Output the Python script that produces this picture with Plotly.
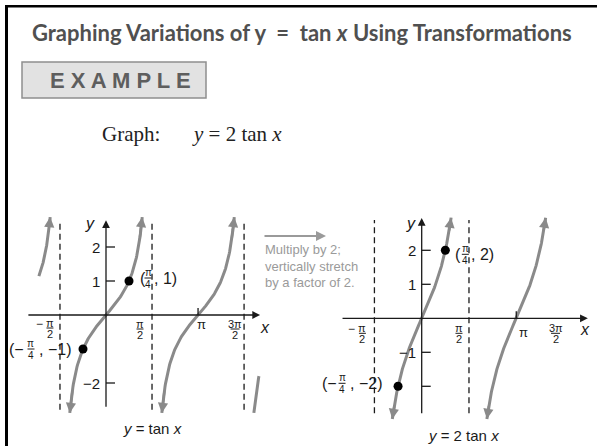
import numpy as np
import plotly.graph_objects as go

W, H = 597, 446
PI = np.pi

# ---------------- data ----------------
left_amplitude = 1                      # y = tan x
right_amplitude = 2                     # y = 2 tan x
left_branch_centers = [-PI, 0.0, PI, 2 * PI]
left_branch_x_start = [-2.29, None, None, None]   # None -> branch runs to the y-limit
left_branch_x_end = [None, None, None, 5.22]
right_branch_centers = [0.0, PI]
right_branch_x_start = [None, None]
right_branch_x_end = [None, None]
left_y_limit = 2.88
right_y_limit = 2.96
left_asymptotes = [-PI / 2, PI / 2, 3 * PI / 2]
right_asymptotes = [-PI / 2, PI / 2]
left_point_x = [-PI / 4, PI / 4]
left_point_y = [-1, 1]
right_point_x = [-PI / 4, PI / 4]
right_point_y = [-2, 2]
left_yticks = [-2, 1, 2]
left_ytick_labels = ["−2", "1", "2"]
right_yticks = [-2, -1, 1, 2]
right_ytick_labels = ["", "−1", "1", "2"]
xtick_values = [-PI / 2, PI / 2, PI, 3 * PI / 2]
xtick_sign = ["−", "", "", ""]
xtick_num = ["π", "π", "π", "3π"]
xtick_den = ["2", "2", "", "2"]
x_tick_mark = [PI]
caption_left = "<i>y</i> = tan <i>x</i>"
caption_right = "<i>y</i> = 2 tan <i>x</i>"
note_lines = ["Multiply by 2;", "vertically stretch", "by a factor of 2."]

# ---------------- style ----------------
SANS = "Liberation Sans, Arial, sans-serif"
TITLE_FONT = "Lato, Roboto, Liberation Sans, sans-serif"
SERIF = "Liberation Serif, Times New Roman, serif"
CURVE = "#8a8a8a"
INK = "#1a1a1a"

panels = {
    "L": dict(xa="x", ya="y", ox=106, oy=315, sx=29.3, sy=34, px=(15, 272), py=(205, 425),
              xaxis_ext=(-2.70, 5.26), yaxis_ext=(-2.74, 2.79), asym_ext=(-2.79, 2.79),
              frac_dx=[-10, -12, 3, -9], frac_dy=[13, 14, 9, 14], sign_dx=-20,
              xlab=(5, 12), ylab=(-16, 3)),
    "R": dict(xa="x2", ya="y2", ox=421.7, oy=318.3, sx=30.1, sy=34, px=(300, 597), py=(205, 425),
              xaxis_ext=(-2.68, 5.52), yaxis_ext=(-2.84, 2.95), asym_ext=(-2.79, 2.89),
              frac_dx=[-12, -10, 7, -8], frac_dy=[15, 15, 14, 15], sign_dx=-21,
              xlab=(-3, 11), ylab=(-11, 5)),
}

fig = go.Figure()
annotations = []
shapes = []


def txt(xa, ya, x, y, s, dx=0, dy=0, size=15, family=SANS, color=INK, xanchor="center"):
    annotations.append(dict(xref=xa, yref=ya, x=x, y=y, text=s, showarrow=False,
                            xshift=dx, yshift=-dy, xanchor=xanchor, yanchor="middle",
                            font=dict(size=size, family=family, color=color)))


def frac(xa, ya, x, y, num, den, dx, dy, size=11, color=INK, w=8, gap=6):
    txt(xa, ya, x, y, num, dx, dy - gap, size)
    txt(xa, ya, x, y, den, dx, dy + gap, size)
    shapes.append(dict(type="line", xref=xa, yref=ya, xsizemode="pixel", ysizemode="pixel",
                       xanchor=x, yanchor=y, x0=dx - w / 2, x1=dx + w / 2, y0=-dy, y1=-dy,
                       line=dict(color=color, width=1)))


def arrow(xa, ya, xh, yh, xt, yt, color, width, size):
    annotations.append(dict(xref=xa, yref=ya, axref=xa, ayref=ya, x=xh, y=yh, ax=xt, ay=yt,
                            text="", showarrow=True, arrowhead=2, arrowsize=size,
                            arrowwidth=width, arrowcolor=color, standoff=0))


def draw_panel(key, amp, centers, xs0, xs1, ylim, asym, px_, py_, yt, ytl):
    p = panels[key]
    xa, ya = p["xa"], p["ya"]
    for a in asym:
        fig.add_trace(go.Scatter(x=[a, a], y=list(p["asym_ext"]), mode="lines", xaxis=xa, yaxis=ya,
                                 line=dict(color=INK, width=1.3, dash="6px,4px"), hoverinfo="skip"))
    arrow(xa, ya, p["xaxis_ext"][1], 0, p["xaxis_ext"][0], 0, INK, 1.3, 1.2)
    arrow(xa, ya, 0, p["yaxis_ext"][1], 0, p["yaxis_ext"][0], INK, 1.3, 1.2)
    for c, s0, s1 in zip(centers, xs0, xs1):
        half = np.arctan(ylim / amp)
        lo = c - half if s0 is None else s0
        hi = c + half if s1 is None else s1
        x = np.linspace(lo, hi, 160)
        y = amp * np.tan(x)
        fig.add_trace(go.Scatter(x=x, y=y, mode="lines", xaxis=xa, yaxis=ya,
                                 line=dict(color=CURVE, width=3), hoverinfo="skip"))
        if s0 is None:
            arrow(xa, ya, x[0], y[0], x[6], y[6], CURVE, 2.4, 0.85)
        if s1 is None:
            arrow(xa, ya, x[-1], y[-1], x[-7], y[-7], CURVE, 2.4, 0.85)
    fig.add_trace(go.Scatter(x=px_, y=py_, mode="markers", xaxis=xa, yaxis=ya,
                             marker=dict(color="black", size=9), hoverinfo="skip"))
    for v, lab in zip(yt, ytl):
        shapes.append(dict(type="line", xref=xa, yref=ya, xsizemode="pixel", xanchor=0,
                           x0=0, x1=9, y0=v, y1=v, line=dict(color=INK, width=1.3)))
        if lab:
            txt(xa, ya, 0, v, lab, dx=-4, size=15, family=SANS, xanchor="right")
    for v in x_tick_mark:
        shapes.append(dict(type="line", xref=xa, yref=ya, ysizemode="pixel", yanchor=0,
                           x0=v, x1=v, y0=0, y1=7, line=dict(color=INK, width=1.3)))
    for v, sg, nu, de, dx, dy in zip(xtick_values, xtick_sign, xtick_num, xtick_den,
                                     p["frac_dx"], p["frac_dy"]):
        if de:
            frac(xa, ya, v, 0, nu, de, dx, dy, w=9 if len(nu) > 1 else 7, gap=5.5)
            if sg:
                txt(xa, ya, v, 0, sg, dx=p["sign_dx"] + (dx + 10), dy=dy - 4, size=12)
        else:
            txt(xa, ya, v, 0, nu, dx=dx, dy=dy, size=13)
    txt(xa, ya, p["xaxis_ext"][1], 0, "<i>x</i>", dx=p["xlab"][0], dy=p["xlab"][1], size=16)
    txt(xa, ya, 0, p["yaxis_ext"][1], "<i>y</i>", dx=p["ylab"][0], dy=p["ylab"][1], size=16)


draw_panel("L", left_amplitude, left_branch_centers, left_branch_x_start, left_branch_x_end,
           left_y_limit, left_asymptotes, left_point_x, left_point_y, left_yticks, left_ytick_labels)
draw_panel("R", right_amplitude, right_branch_centers, right_branch_x_start, right_branch_x_end,
           right_y_limit, right_asymptotes, right_point_x, right_point_y, right_yticks, right_ytick_labels)


def point_label(key, x, y, lead, num, den, tail, lead_dx, frac_dx, tail_dx, dy):
    p = panels[key]
    xa, ya = p["xa"], p["ya"]
    txt(xa, ya, x, y, lead, dx=lead_dx, dy=dy, size=16, xanchor="left")
    frac(xa, ya, x, y, num, den, frac_dx, dy, size=10, w=7, gap=6)
    txt(xa, ya, x, y, tail, dx=tail_dx, dy=dy, size=16, xanchor="left")


point_label("L", left_point_x[1], left_point_y[1], "(", "π", "4", ", 1)", 9, 19, 23, -3)
point_label("L", left_point_x[0], left_point_y[0], "(−", "π", "4", ", −1)", -76, -52, -46, 0)
point_label("R", right_point_x[1], right_point_y[1], "(", "π", "4", ", 2)", 8, 20, 24, 4)
point_label("R", right_point_x[0], right_point_y[0], "(−", "π", "4", ", −2)", -78, -56, -50, -3)


def ptxt(px, py, s, size, family, color, xanchor="left", yanchor="middle"):
    annotations.append(dict(xref="paper", yref="paper", x=px / W, y=1 - py / H, text=s,
                            showarrow=False, xanchor=xanchor, yanchor=yanchor,
                            font=dict(size=size, family=family, color=color)))


shapes.append(dict(type="line", xref="paper", yref="paper", x0=6.5 / W, x1=6.5 / W, y0=0, y1=1 - 5 / H,
                   line=dict(color="black", width=3)))
shapes.append(dict(type="line", xref="paper", yref="paper", x0=5 / W, x1=1, y0=1 - 6.2 / H, y1=1 - 6.2 / H,
                   line=dict(color="black", width=2.5)))
shapes.append(dict(type="rect", xref="paper", yref="paper", x0=22 / W, x1=206 / W, y0=1 - 98 / H, y1=1 - 62 / H,
                   fillcolor="#e2e2e2", line=dict(color="#8f8f8f", width=1.5)))

ptxt(30, 33, "<b>Graphing Variations of y  =  tan <i>x</i> Using Transformations</b>", 22, TITLE_FONT, "#505050")
ptxt(120, 81, "<b>E X A M P L E</b>", 22, SANS, "#5e5e5e", xanchor="center")
ptxt(100, 134, "Graph:", 21, SERIF, "#222222")
ptxt(190, 134, "<i>y</i> = 2 tan <i>x</i>", 21, SERIF, "#222222")
ptxt(152, 428, caption_left, 15, SANS, INK, xanchor="center")
ptxt(463, 435, caption_right, 15, SANS, INK, xanchor="center")
for i, line in enumerate(note_lines):
    ptxt(263, 250 + 16 * i, line, 13, SANS, "#9a9a9a")
annotations.append(dict(xref="paper", yref="paper", x=326 / W, y=1 - 236 / H, ax=-63, ay=0,
                        text="", showarrow=True, arrowhead=2, arrowsize=1, arrowwidth=2,
                        arrowcolor="#9a9a9a", standoff=0))


def axis_cfg(key, which):
    p = panels[key]
    if which == "x":
        dom = [p["px"][0] / W, p["px"][1] / W]
        rng = [(p["px"][0] - p["ox"]) / p["sx"], (p["px"][1] - p["ox"]) / p["sx"]]
    else:
        dom = [1 - p["py"][1] / H, 1 - p["py"][0] / H]
        rng = [(p["oy"] - p["py"][1]) / p["sy"], (p["oy"] - p["py"][0]) / p["sy"]]
    return dict(domain=dom, range=rng, visible=False, fixedrange=True)


fig.update_layout(
    width=W, height=H, margin=dict(l=0, r=0, t=0, b=0),
    paper_bgcolor="white", plot_bgcolor="white", showlegend=False,
    xaxis=dict(axis_cfg("L", "x"), anchor="y"),
    yaxis=dict(axis_cfg("L", "y"), anchor="x"),
    xaxis2=dict(axis_cfg("R", "x"), anchor="y2"),
    yaxis2=dict(axis_cfg("R", "y"), anchor="x2"),
    annotations=annotations, shapes=shapes,
)

fig.write_html("out.html", config={"displayModeBar": False},
               post_script="document.body.style.margin='0';document.body.style.overflow='hidden';")
